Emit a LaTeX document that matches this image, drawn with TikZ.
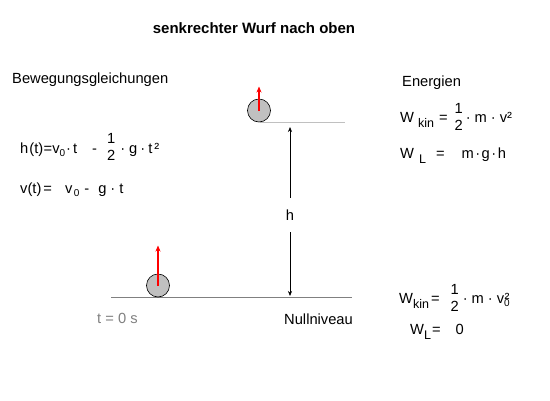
\documentclass[tikz,border=0pt]{standalone}
\usepackage{fontspec}
\setmainfont{Liberation Sans}
\usetikzlibrary{positioning,arrows.meta}

\definecolor{hellgrau}{HTML}{C0C0C0}
\definecolor{dunkelgrau}{HTML}{808080}

\newcommand{\lowsub}[1]{\raisebox{-5pt}{\fontsize{12.5}{12.5}\selectfont #1}}
\newcommand{\smallsub}[1]{\raisebox{-3pt}{\fontsize{10}{10}\selectfont #1}}
\newcommand{\halbe}{\raisebox{0.5pt}{\begin{tabular}[c]{@{}c@{}}1\\2\end{tabular}}}
\newcommand{\pkt}{\hspace{4pt}·\hspace{4pt}}

\begin{document}
\begin{tikzpicture}[x=1pt,y=-1pt,font=\fontsize{14.7}{17}\selectfont,
    ball/.style={circle,draw=black,fill=hellgrau,line width=0.6pt,minimum size=23pt,inner sep=0pt},
    push/.style={red,line width=2pt,-{Stealth[length=6pt,width=5pt]}},
    gleichung/.style={anchor=base west,inner sep=0pt}]

        \useasboundingbox (0,0) rectangle (550,400);

        \node[anchor=base,font=\fontsize{15}{18}\selectfont\bfseries] (titel) at (254,33) {senkrechter Wurf nach oben};
        \node[gleichung] (bewegung) at (12,83.5) {Bewegungsgleichungen};
        \node[gleichung] (energien) at (402,86) {Energien};

        %niveaus
        \coordinate (oben) at (260,122);
        \coordinate (nullL) at (111,297);
        \coordinate (nullR) at (352,297);
        \draw[hellgrau, line width=1pt] (oben) -- ++(85,0) coordinate (obenR);
        \draw[dunkelgrau, line width=1pt] (nullL) -- (nullR);

        %kugeln + anfangsgeschwindigkeit
        \node[ball] (kugel1) at (158,285.5) {};
        \node[ball] (kugel2) at (259,110.5) {};
        \draw[push] (kugel1.center) -- ++(0,-40);
        \draw[push] (kugel2.center) -- ++(0,-24);

        %hoehe
        \coordinate (hoben) at (290,127);
        \coordinate (hunten) at (290,296);
        \draw[{Stealth[length=5pt,width=4pt]}-{Stealth[length=5pt,width=4pt]}, line width=0.6pt]
        (hoben) -- node[pos=0.52, fill=white, inner sep=0pt, minimum height=34pt, minimum width=10pt] (hlabel) {h} (hunten);

        \node[gleichung, text=dunkelgrau] (tnull) at (97,323) {t = 0 s};
        \node[gleichung] (nullniveau) at (284,324) {Nullniveau};

        %bewegungsgleichungen
        \node[gleichung] (hgl) at (20,153)
        {h\hspace{1pt}(t)\hspace{0.5pt}=v\smallsub{0}\hspace{1pt}·\hspace{2pt}t\hspace{15pt}-\hspace{10pt}\halbe\hspace{5pt}·\hspace{4pt}g\hspace{3pt}·\hspace{3pt}t\hspace{2pt}²};
        \node[gleichung] (vgl) at (20,193)
        {v(t)\hspace{2pt}=\hspace{13pt}v\hspace{1.5pt}\smallsub{0}\hspace{5pt}-\hspace{9pt}g\pkt t};

        %energien
        \node[gleichung] (wkin1) at (400,122.5)
        {W\hspace{4pt}\lowsub{kin}\hspace{5pt}=\hspace{7pt}\halbe\hspace{3pt}·\hspace{4pt}m\hspace{4pt}·\hspace{4pt}v²};
        \node[gleichung] (wl1) at (400,158)
        {W\hspace{5pt}\lowsub{L}\hspace{10pt}=\hspace{17pt}m\hspace{1.5pt}·\hspace{1.5pt}g\hspace{1.5pt}·\hspace{1.5pt}h};
        \node[gleichung] (wkin2) at (399,303.5)
        {W\lowsub{kin}\hspace{2pt}=\hspace{11pt}\halbe\pkt m\pkt v\rlap{\smallsub{0}}\hspace{0.5pt}²};
        \node[gleichung] (wl2) at (410,334)
        {W\lowsub{L}\hspace{1pt}=\hspace{15pt}0};
    \end{tikzpicture}
\end{document}
